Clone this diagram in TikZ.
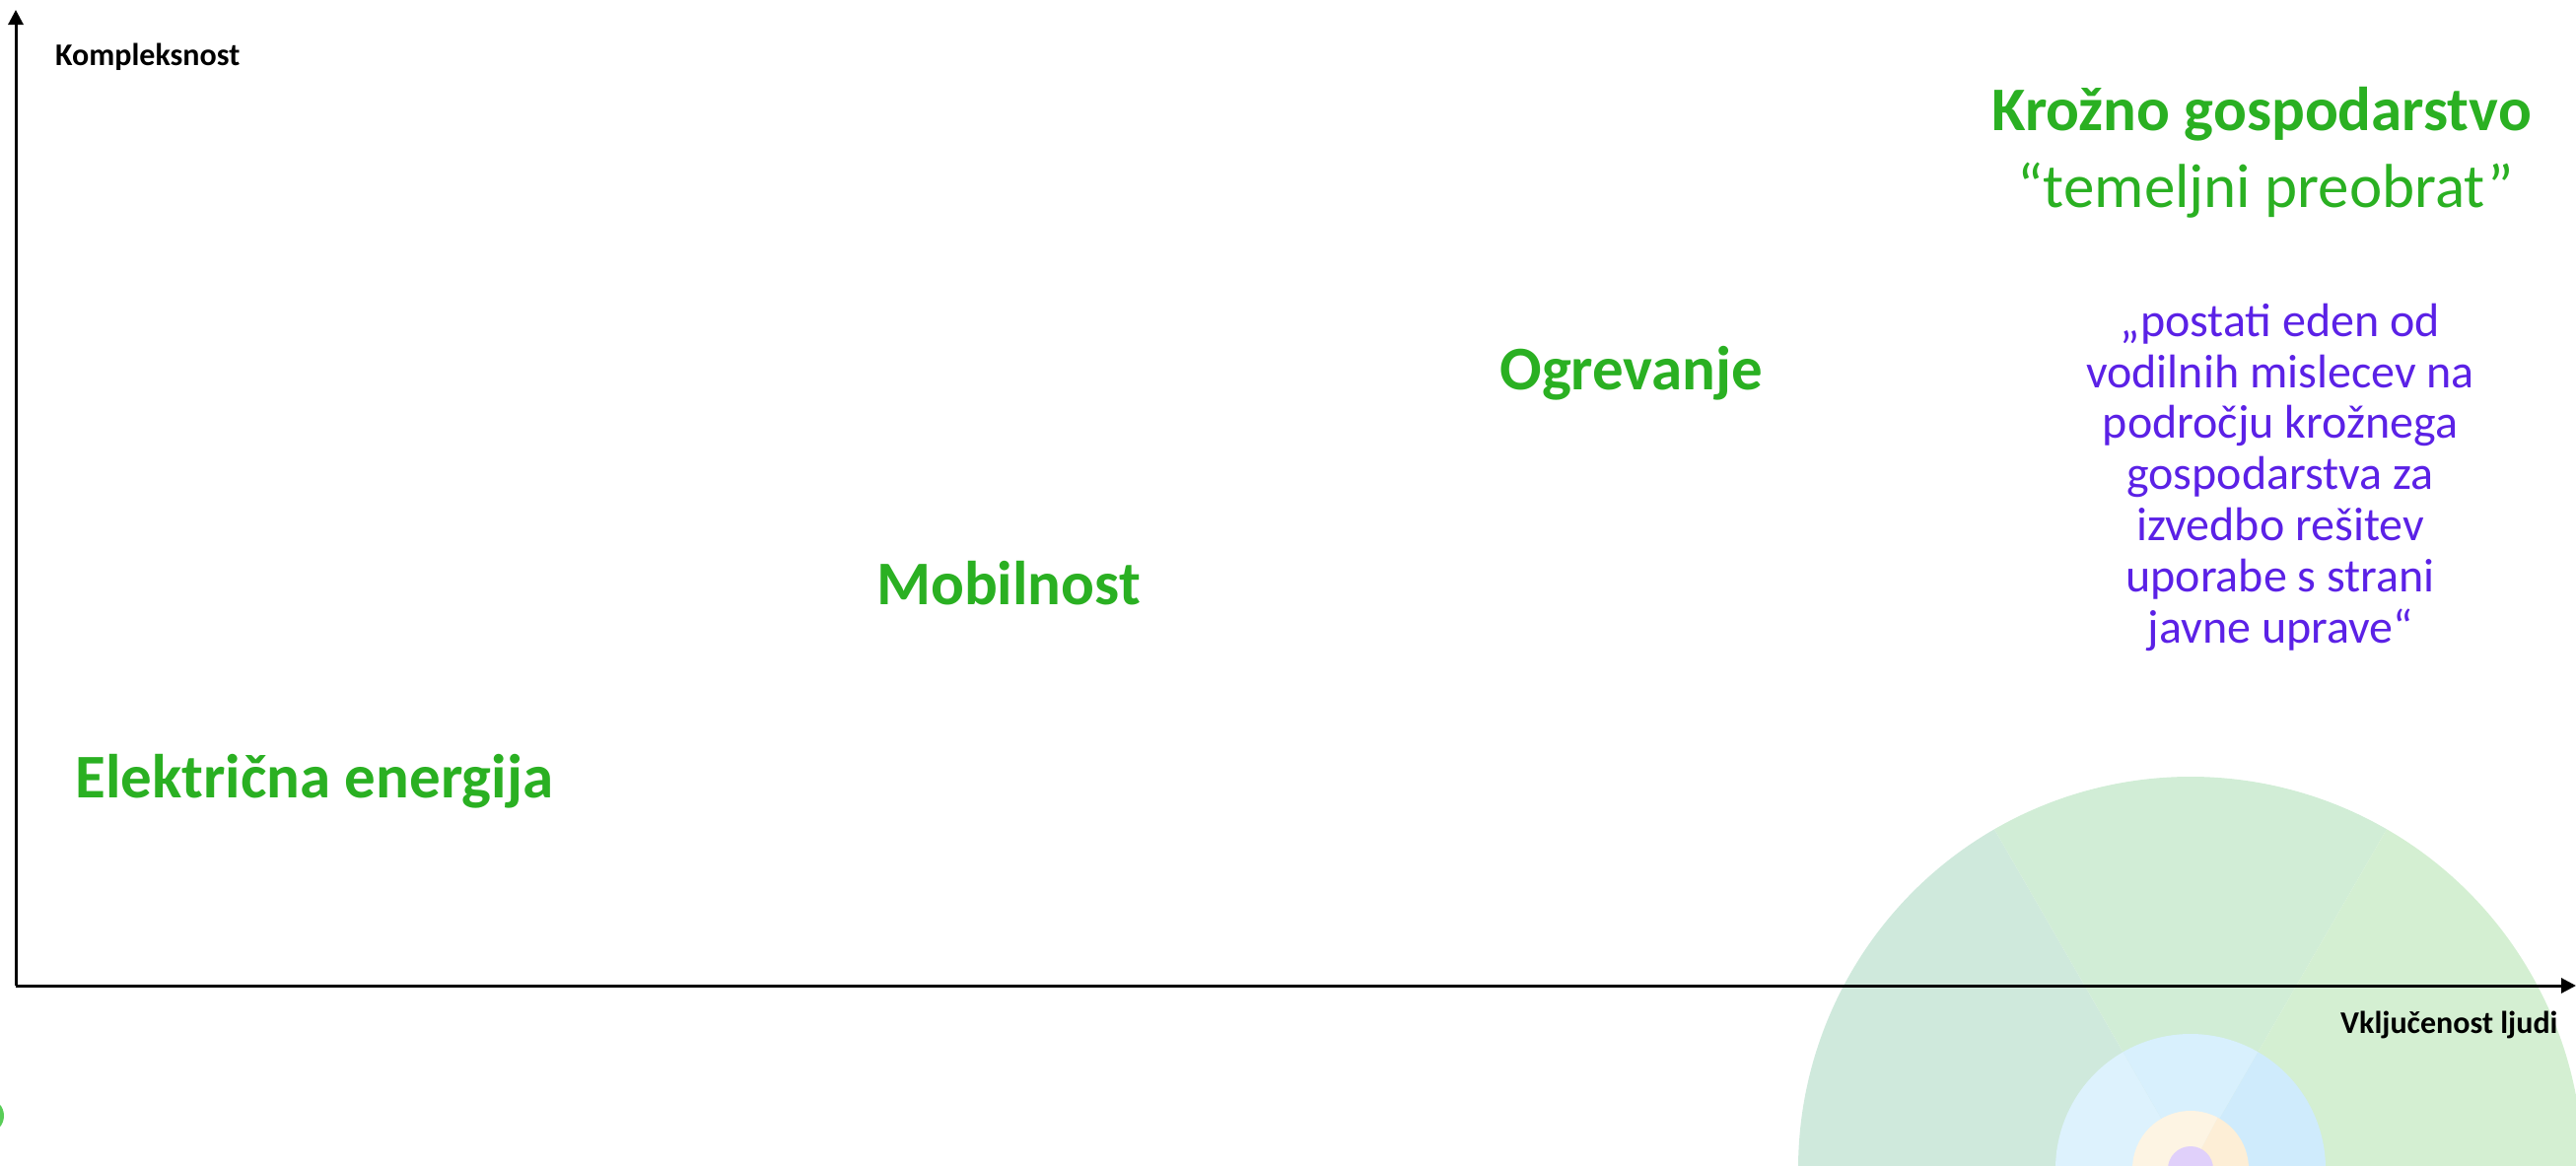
\documentclass[tikz,border=0pt]{standalone}
\usepackage{fontspec}
\setmainfont{Carlito}
\usetikzlibrary{arrows.meta}
\definecolor{lblgreen}{HTML}{2AB022}
\definecolor{lblpurple}{HTML}{5B21E6}
\definecolor{bigA}{HTML}{CFE9DC}
\definecolor{bigB}{HTML}{D1EDD6}
\definecolor{bigC}{HTML}{D4EFD2}
\definecolor{bluA}{HTML}{DDF2FD}
\definecolor{bluB}{HTML}{D8F0FD}
\definecolor{bluC}{HTML}{CFEBFC}
\definecolor{orA}{HTML}{FDF4E3}
\definecolor{orB}{HTML}{FDEED6}
\definecolor{purA}{HTML}{E0D0FA}
\definecolor{blobgreen}{HTML}{3CC43A}
\tikzset{
  axisline/.style={line width=3pt, -{Triangle[length=15pt,width=15pt]}},
  axislabel/.style={font=\fontsize{32}{38}\selectfont\bfseries, inner sep=0pt},
  topic/.style={font=\fontsize{63}{76}\selectfont\bfseries, text=lblgreen, inner sep=0pt, anchor=base},
  subtopic/.style={font=\fontsize{63}{76}\selectfont, text=lblgreen, inner sep=0pt, anchor=base},
  quotetext/.style={font=\fontsize{48}{51.8}\selectfont, text=lblpurple, inner sep=0pt, align=center, anchor=base}
}
\begin{document}
\begin{tikzpicture}[x=1pt,y=-1pt]
\useasboundingbox (0,0) rectangle (2613,1183);
% concentric sectors (y axis points down: angles -180..0 are the upper half)
\coordinate (cc) at (2222,1186);
\begin{scope}
\clip (0,0) rectangle (2613,1183);
% big ring
\fill[bigA] (cc) -- ++(-180:398) arc[start angle=-180, end angle=-120, radius=398] -- cycle;
\fill[bigB] (cc) -- ++(-120:398) arc[start angle=-120, end angle=-60, radius=398] -- cycle;
\fill[bigC] (cc) -- ++(-60:398) arc[start angle=-60, end angle=0, radius=398] -- cycle;
% blue ring
\fill[bluA] (cc) -- ++(-180:137) arc[start angle=-180, end angle=-120, radius=137] -- cycle;
\fill[bluB] (cc) -- ++(-120:137) arc[start angle=-120, end angle=-60, radius=137] -- cycle;
\fill[bluC] (cc) -- ++(-60:137) arc[start angle=-60, end angle=0, radius=137] -- cycle;
% orange ring
\fill[orA] (cc) -- ++(-180:59) arc[start angle=-180, end angle=-62, radius=59] -- cycle;
\fill[orB] (cc) -- ++(-62:59) arc[start angle=-62, end angle=0, radius=59] -- cycle;
% purple core
\fill[purA] (cc) circle[radius=23];
% partial green blob at left edge
\fill[blobgreen, opacity=0.85] (-12,1132) ellipse[x radius=16, y radius=17];
\end{scope}
% axes
\coordinate (origin) at (16,1000);
\coordinate (ytip) at (16,10);
\coordinate (xtip) at (2613,1000);
\draw[axisline] (origin) -- (ytip);
\draw[axisline] (origin) -- (xtip);
\node[axislabel, anchor=base west] (ylab) at (56,66) {Kompleksnost};
\node[axislabel, anchor=base west] (xlab) at (2374,1048) {Vključenost ljudi};
% topics
\node[topic] (elek) at (319,809) {Električna energija};
\node[topic] (mob) at (1023,613) {Mobilnost};
\node[topic] (ogr) at (1655,395) {Ogrevanje};
\node[topic] (kroz) at (2294,132) {Krožno gospodarstvo};
\node[subtopic] (temel) at (2298,210) {“temeljni preobrat”};
\node[quotetext] (quote) at (2313,652) {„postati eden od\\vodilnih mislecev na\\področju krožnega\\gospodarstva za\\izvedbo rešitev\\uporabe s strani\\javne uprave“};
\end{tikzpicture}
\end{document}
